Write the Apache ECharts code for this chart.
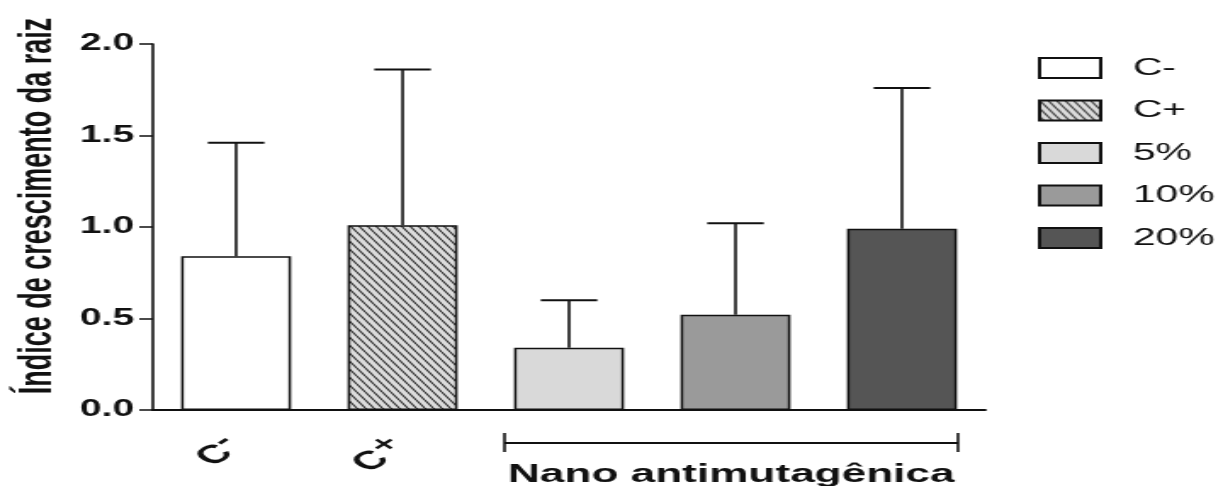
<!DOCTYPE html>
<html>
<head>
<meta charset="utf-8">
<script src="https://cdn.jsdelivr.net/npm/echarts@6/dist/echarts.min.js"></script>
<style>
  html, body { margin: 0; padding: 0; background: #fff; overflow: hidden; }
  /* the original figure is stretched sideways, so draw narrow and widen */
  #chart { width: 720px; height: 486px; transform: scaleX(1.6986); transform-origin: 0 0; }
</style>
</head>
<body>
<div id="chart"></div>
<script>
// Índice de crescimento da raiz por tratamento
const categories = ['C-', 'C+', '5%', '10%', '20%'];
const tickLabels = ['{a|C}{b|-}', '{a|C}{b|+}', '', '', ''];
const means = [0.84, 1.01, 0.34, 0.52, 0.99];
const upper = [1.46, 1.86, 0.60, 1.02, 1.76];
const fills = ['#ffffff', 'hatch', '#d9d9d9', '#9a9a9a', '#555555'];
const yTicks = [0, 0.5, 1.0, 1.5, 2.0];
const groupLabel = 'Nano antimutagênica';

const FONT = 'Liberation Sans, Arial, DejaVu Sans, sans-serif';

// diagonal hatch for C+
function hatch() {
  const c = document.createElement('canvas');
  c.width = 5; c.height = 8;
  const ctx = c.getContext('2d');
  ctx.fillStyle = '#dcdcdc';
  ctx.fillRect(0, 0, 5, 8);
  ctx.strokeStyle = '#2a2a2a';
  ctx.lineWidth = 1.1;
  [-5, 0, 5].forEach(dx => {
    ctx.beginPath();
    ctx.moveTo(dx, 0);
    ctx.lineTo(dx + 5, 8);
    ctx.stroke();
  });
  return { image: c, repeat: 'repeat' };
}

const chart = echarts.init(document.getElementById('chart'));

const barSeries = categories.map((name, i) => ({
  name: name,
  type: 'bar',
  stack: 'all',
  barWidth: '66%',
  data: categories.map((c, j) => (j === i ? means[i] : '-')),
  itemStyle: {
    color: fills[i] === 'hatch' ? hatch() : fills[i],
    borderColor: '#111',
    borderWidth: 1.5
  },
  emphasis: { disabled: true }
}));

const errSeries = {
  type: 'custom',
  z: 5,
  data: categories.map((c, i) => [i, means[i], upper[i]]),
  renderItem: function (params, api) {
    const base = api.coord([api.value(0), api.value(1)]);
    const top = api.coord([api.value(0), api.value(2)]);
    const half = api.size([1, 0])[0] * 0.17;
    return {
      type: 'group',
      children: [
        { type: 'line', shape: { x1: base[0], y1: base[1], x2: top[0], y2: top[1] }, style: { stroke: '#111', lineWidth: 1.6 } },
        { type: 'line', shape: { x1: top[0] - half, y1: top[1], x2: top[0] + half, y2: top[1] }, style: { stroke: '#111', lineWidth: 2 } }
      ]
    };
  }
};

chart.setOption({
  animation: false,
  backgroundColor: '#fff',
  grid: { left: 90, top: 44, width: 490, bottom: 76 },
  legend: {
    data: categories,
    orient: 'vertical',
    left: 611,
    top: 56,
    padding: 0,
    icon: 'rect',
    itemWidth: 36,
    itemHeight: 20,
    itemGap: 18.5,
    selectedMode: false,
    textStyle: {
      fontFamily: FONT, fontSize: 24, color: '#111',
      lineHeight: 24, padding: [0, 0, 0, 14]
    }
  },
  xAxis: {
    type: 'category',
    data: categories,
    axisLine: { lineStyle: { color: '#111', width: 2 } },
    axisTick: { alignWithLabel: true, length: 11, lineStyle: { color: '#111', width: 1.5 } },
    axisLabel: {
      rotate: 45,
      margin: 33,
      color: '#111',
      formatter: (v, i) => tickLabels[i],
      rich: {
        a: { fontFamily: FONT, fontSize: 26, fontWeight: 'bold', color: '#111' },
        b: { fontFamily: 'DejaVu Sans, ' + FONT, fontSize: 20, fontWeight: 'bold', color: '#111', padding: [0, 0, 12, 0] }
      }
    }
  },
  yAxis: {
    type: 'value',
    min: yTicks[0],
    max: yTicks[yTicks.length - 1],
    interval: 0.5,
    name: 'Índice de crescimento da raiz',
    nameLocation: 'middle',
    nameGap: 54,
    nameTextStyle: {
      fontFamily: FONT, fontSize: 27, fontWeight: 'bold', color: '#111',
      padding: [0, 0, 0, 42]
    },
    splitLine: { show: false },
    axisLine: { show: true, lineStyle: { color: '#111', width: 1.6 } },
    axisTick: { show: true, length: 8, lineStyle: { color: '#111', width: 1.5 } },
    axisLabel: {
      margin: 11,
      fontFamily: FONT, fontSize: 23, fontWeight: 'bold', color: '#111',
      formatter: v => v.toFixed(1)
    }
  },
  series: barSeries.concat([errSeries])
});

// bracket under the three nano concentrations
const xa = chart.convertToPixel({ xAxisIndex: 0 }, categories[2]);
const xb = chart.convertToPixel({ xAxisIndex: 0 }, categories[4]);
const y0 = chart.convertToPixel({ yAxisIndex: 0 }, 0);
const bl = xa - 38, br = xb + 33, by = y0 + 33;
const bs = { stroke: '#111', lineWidth: 1.6 };
chart.setOption({
  graphic: [
    { type: 'line', shape: { x1: bl, y1: by, x2: br, y2: by }, style: { stroke: '#111', lineWidth: 2 } },
    { type: 'line', shape: { x1: bl, y1: by - 10, x2: bl, y2: by + 9 }, style: bs },
    { type: 'line', shape: { x1: br, y1: by - 10, x2: br, y2: by + 9 }, style: bs },
    {
      type: 'text', x: (bl + br) / 2, y: y0 + 65,
      style: {
        text: groupLabel, font: 'bold 26px ' + FONT, fill: '#111',
        textAlign: 'center', textVerticalAlign: 'middle'
      }
    }
  ]
});

window.addEventListener('resize', () => chart.resize());
</script>
</body>
</html>
